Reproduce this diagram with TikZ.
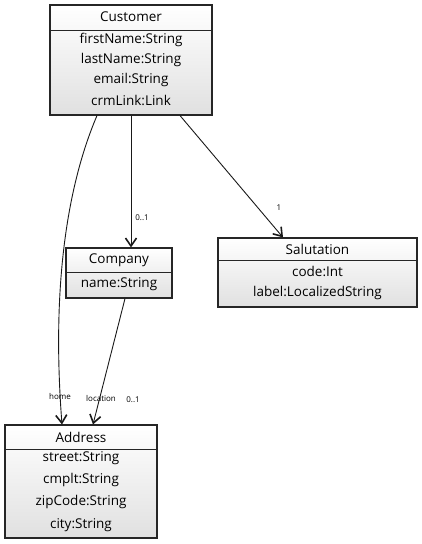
\documentclass[tikz,border=0pt]{standalone}
\usepackage{fontspec}
\setmainfont{Open Sans}
\usetikzlibrary{arrows.meta,shadows}
\begin{document}
\begin{tikzpicture}[x=1pt,y=-1pt,
  cls/.style={draw=black!85, line width=1.1pt, rectangle, inner sep=0pt,
    top color=white, bottom color=black!12,
    drop shadow={shadow xshift=1pt, shadow yshift=-1pt, fill=black!50, opacity=0.4}},
  txt/.style={font=\fontsize{13.5}{15}\selectfont, inner sep=0pt, anchor=center},
  lbl/.style={font=\fontsize{8}{9}\selectfont, inner sep=0pt},
  div/.style={draw=black!85, line width=1pt},
  edge/.style={draw=black!90, line width=0.9pt, -{Straight Barb[length=8pt,width=11pt,line width=1.6pt]}}
]
\useasboundingbox (0,0) rectangle (421,544);
% Customer
\node[cls, minimum width=162pt, minimum height=110pt] (cust) at (131,60) {};
\draw[div] (cust.west |- 0,30) coordinate (cd1) -- (cust.east |- 0,30) coordinate (cd2);
\node[txt] (custT) at (131,17) {Customer};
\node[txt] (custA1) at (131,40) {firstName:String};
\node[txt] (custA2) at (131,60) {lastName:String};
\node[txt] (custA3) at (131,80) {email:String};
\node[txt] (custA4) at (131,100) {crmLink:Link};
% Company
\node[cls, minimum width=106pt, minimum height=50pt] (comp) at (119,273) {};
\draw[div] (comp.west |- 0,272) coordinate (pd1) -- (comp.east |- 0,272) coordinate (pd2);
\node[txt] (compT) at (119,260) {Company};
\node[txt] (compA1) at (119,284) {name:String};
% Salutation
\node[cls, minimum width=199pt, minimum height=69pt] (sal) at (317.5,272.5) {};
\draw[div] (sal.west |- 0,260) coordinate (sd1) -- (sal.east |- 0,260) coordinate (sd2);
\node[txt] (salT) at (317.5,249) {Salutation};
\node[txt] (salA1) at (317.5,271) {code:Int};
\node[txt] (salA2) at (317.5,293) {label:LocalizedString};
% Address
\node[cls, minimum width=152pt, minimum height=113pt] (addr) at (81,481.5) {};
\draw[div] (addr.west |- 0,449) coordinate (ad1) -- (addr.east |- 0,449) coordinate (ad2);
\node[txt] (addrT) at (81,437) {Address};
\node[txt] (addrA1) at (81,458) {street:String};
\node[txt] (addrA2) at (81,480) {cmplt:String};
\node[txt] (addrA3) at (81,502) {zipCode:String};
\node[txt] (addrA4) at (81,525) {city:String};
% edges
\draw[edge] (cust.south) -- (cust.south |- comp.north);
\draw[edge] ([xshift=49pt]cust.south) -- ([xshift=-34.5pt]sal.north);
\draw[edge] ([xshift=-34pt]cust.south) .. controls +(-32,75) and +(-10,-130) .. ([xshift=-19pt]addr.north);
\draw[edge] ([xshift=6pt]comp.south) -- ([xshift=12pt]addr.north);
% labels
\node[lbl] (l1) at (142,218) {0..1};
\node[lbl] (l2) at (279,208) {1};
\node[lbl] (l3) at (60,396) {home};
\node[lbl] (l4) at (101,398) {location};
\node[lbl] (l5) at (133,400) {0..1};
\end{tikzpicture}
\end{document}
